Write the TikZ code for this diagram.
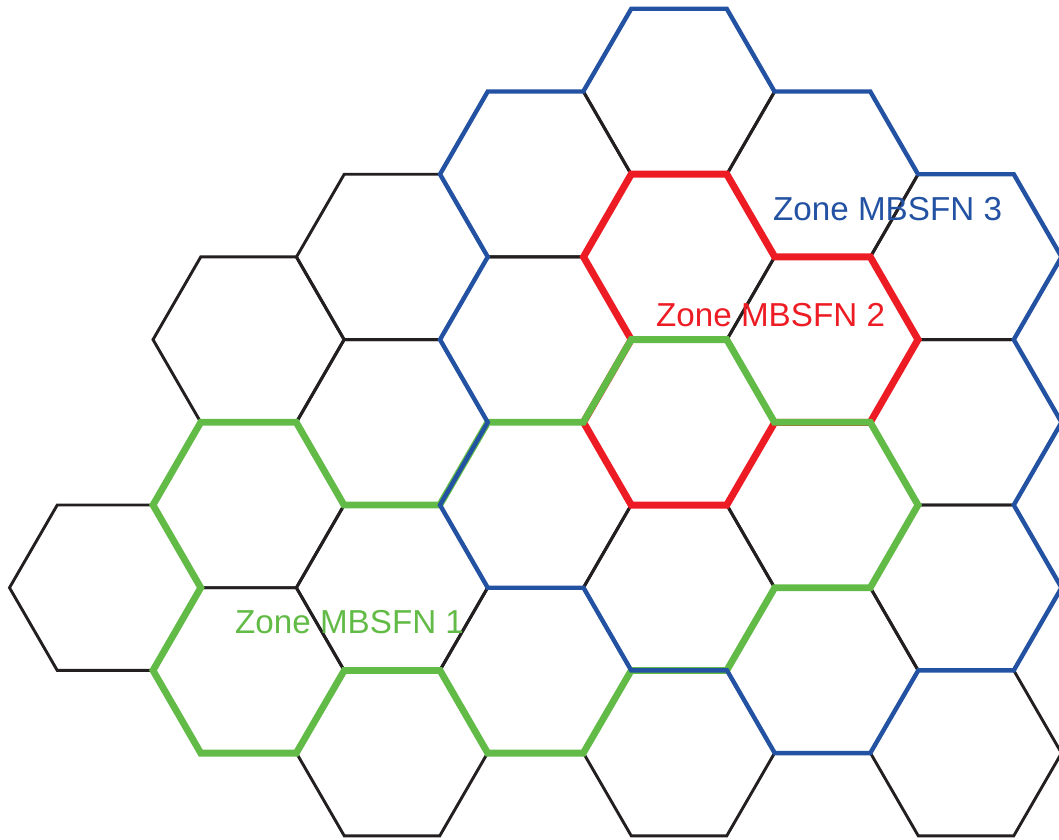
\documentclass[tikz,border=0pt]{standalone}
\usepackage{fontspec}
\setmainfont{Liberation Sans}
\definecolor{zblue}{RGB}{35,82,163}
\definecolor{zred}{RGB}{237,28,36}
\definecolor{zgreen}{RGB}{98,187,70}
\definecolor{zblack}{RGB}{35,31,32}
\begin{document}
\begin{tikzpicture}[x=1pt,y=-1pt,
  cell/.style={draw=zblack,line width=2.9pt,line join=miter},
  zoneone/.style={draw=zgreen,line width=6.8pt,line join=miter},
  zonetwo/.style={draw=zred,line width=7pt,line join=miter},
  zonethree/.style={draw=zblue,line width=4.4pt,line join=miter},
  lbl/.style={anchor=base west,inner sep=0pt,font=\fontsize{33.2}{40}\selectfont}]
\useasboundingbox (0,0) rectangle (1059,839);
\def\s{95.5}
\foreach \n/\c/\k in {A/0/3, B/1/1, B/1/2, B/1/3, C/2/1, C/2/2, C/2/3, C/2/4,
  D/3/0, D/3/1, D/3/2, D/3/3, E/4/0, E/4/1, E/4/2, E/4/3, E/4/4,
  F/5/0, F/5/1, F/5/2, F/5/3, G/6/1, G/6/2, G/6/3, G/6/4}{
  \pgfmathsetmacro\cx{105+143.5*\c}
  \pgfmathsetmacro\cy{91.5+165.4*\k+82.7*mod(\c,2)}
  \path (\cx,\cy) coordinate (\n\k)
    +(0:\s) coordinate (\n\k-R)
    +(60:\s) coordinate (\n\k-BR)
    +(120:\s) coordinate (\n\k-BL)
    +(180:\s) coordinate (\n\k-L)
    +(240:\s) coordinate (\n\k-TL)
    +(300:\s) coordinate (\n\k-TR);
  \draw[cell] (\n\k-R) -- (\n\k-BR) -- (\n\k-BL) -- (\n\k-L) -- (\n\k-TL) -- (\n\k-TR) -- cycle;
}
% Zone MBSFN 2 (red)
\draw[zonetwo] (E1-TL) -- (E1-TR) -- (F1-TL) -- (F1-TR) -- (F1-R) -- (F1-BR) -- (F1-BL)
  -- (E2-BR) -- (E2-BL) -- (E2-L) -- (E2-TL) -- (E1-L) -- cycle;
% Zone MBSFN 1 (green)
\draw[zoneone] (B2-L) -- (B2-TL) -- (B2-TR) -- (B2-R) -- (C3-TR) -- (D2-TL) -- (D2-TR)
  -- (E2-TL) -- (E2-TR) -- (E2-R) -- (F2-TR) -- (F2-R) -- (F2-BR) -- (F2-BL)
  -- (E3-BR) -- (E3-BL) -- (D3-BR) -- (D3-BL) -- (D3-L) -- (C3-BL) -- (B3-BR)
  -- (B3-BL) -- (B3-L) -- (B3-TL) -- cycle;
% Zone MBSFN 3 (blue)
\draw[zonethree] (D0-L) -- (D0-TL) -- (D0-TR) -- (E0-TL) -- (E0-TR) -- (E0-R) -- (F0-TR)
  -- (F0-R) -- (G1-TR) -- (G1-R) -- (G1-BR) -- (G2-R) -- (G2-BR) -- (G3-R) -- (G3-BR)
  -- (G3-BL) -- (F3-BR) -- (F3-BL) -- (F3-L) -- (E3-BL) -- (E3-L) -- (D2-BL) -- (D2-L)
  -- (D2-TL) -- (D1-L) -- (D1-TL) -- cycle;
\node[lbl,text=zblue] (z3) at (773,220) {Zone MBSFN 3};
\node[lbl,text=zred] (z2) at (656,326) {Zone MBSFN 2};
\node[lbl,text=zgreen] (z1) at (235,633) {Zone MBSFN 1};
\end{tikzpicture}
\end{document}
